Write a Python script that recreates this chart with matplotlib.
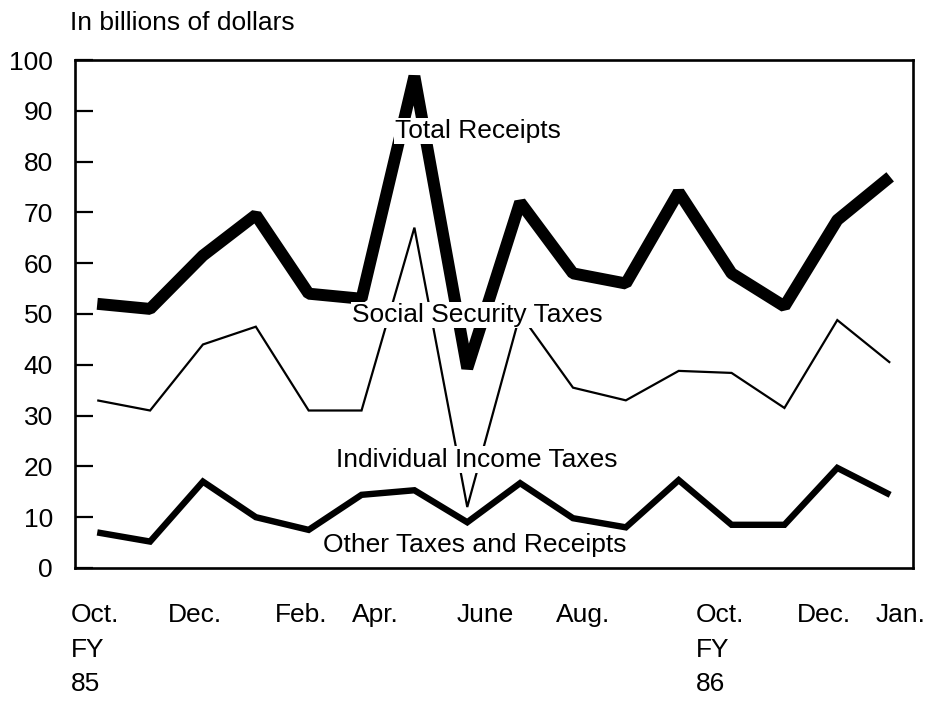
import numpy as np
import matplotlib
matplotlib.use("Agg")
import matplotlib.pyplot as plt

plt.rcParams['font.family'] = ['Liberation Sans', 'DejaVu Sans']

# monthly values, Oct. FY85 .. Jan. FY86 (billions of dollars)
month_idx = np.arange(16)
total_receipts = [52, 51, 61.5, 69.5, 54, 53, 96.8, 39.3, 72, 58, 56, 74, 58, 51.5, 68.5, 77]
individual_income = [33, 31, 44, 47.5, 31, 31, 67, 12, 50, 35.5, 33, 38.8, 38.4, 31.5, 48.8, 40.4]
other_taxes = [7, 5.2, 17, 10, 7.5, 14.4, 15.3, 9, 16.7, 9.8, 8, 17.3, 8.5, 8.5, 19.7, 14.4]

x_labels = ["Oct.\nFY\n85", "Dec.", "Feb.", "Apr.", "June", "Aug.", "Oct.\nFY\n86", "Dec.", "Jan."]
x_label_pos = [-0.05, 1.85, 3.85, 5.26, 7.34, 9.19, 11.78, 13.75, 15.2]
y_ticks = [0, 10, 20, 30, 40, 50, 60, 70, 80, 90, 100]

fig = plt.figure(figsize=(9.32, 7.06), dpi=100)
ax = fig.add_axes([0.0805, 0.1955, 0.899, 0.7195])

ax.plot(month_idx, total_receipts, color="black", lw=8.6,
        solid_joinstyle="bevel", solid_capstyle="butt", zorder=2)
ax.plot(month_idx, individual_income, color="black", lw=1.6,
        solid_joinstyle="miter", solid_capstyle="butt", zorder=2)
ax.plot(month_idx, other_taxes, color="black", lw=4.6,
        solid_joinstyle="miter", solid_capstyle="butt", zorder=2)

ax.set_xlim(-0.42, 15.43)
ax.set_ylim(0, 100)

ax.set_yticks(y_ticks)
ax.tick_params(axis="y", direction="in", length=13, width=1.6, pad=16, labelsize=19)
ax.set_xticks(x_label_pos)
ax.set_xticklabels(x_labels)
ax.tick_params(axis="x", length=0, pad=25, labelsize=19)
for t in ax.get_xticklabels():
    t.set_multialignment("left")
    t.set_linespacing(1.57)

for s in ax.spines.values():
    s.set_linewidth(1.9)

box = dict(facecolor="white", edgecolor="none", pad=1)
txt = dict(fontsize=19, ha="center", va="center", bbox=box, zorder=5)
ax.text(7.2, 86, "Total Receipts", **txt)
ax.text(7.19, 49.8, "Social Security Taxes", **txt)
ax.text(7.17, 21.3, "Individual Income Taxes", **txt)
ax.text(7.15, 4.5, "Other Taxes and Receipts", **txt)

fig.text(0.075, 0.968, "In billions of dollars", fontsize=19, ha="left", va="center")

fig.savefig("out.png", dpi=100)
